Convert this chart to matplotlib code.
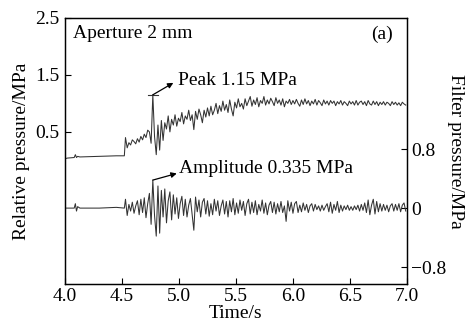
# -*- coding: utf-8 -*-
# Pressao relativa e pressao filtrada - abertura 2 mm (a)

import numpy as np
import matplotlib
matplotlib.use("Agg")
import matplotlib.pyplot as plt

plt.rcParams["font.family"] = "serif"
plt.rcParams["font.serif"] = ["Liberation Serif", "DejaVu Serif"]

# trecho inicial (linha de base)
t_base = [4.00, 4.02, 4.08, 4.09, 4.10, 4.11, 4.13, 4.30, 4.45, 4.52]
rel_base = [0.03, 0.04, 0.05, 0.10, 0.05, 0.07, 0.06, 0.07, 0.08, 0.08]
filt_base = [0.0, 0.0, 0.0, 0.06, -0.04, 0.02, 0.0, 0.0, 0.01, 0.0]

# trecho com oscilacao: amostras a cada 0.015 s, a partir de 4.53 s
t_ini = 4.53
t_passo = 0.015

rel_osc = [
    0.40, 0.22, 0.31, 0.27, 0.36, 0.33, 0.29, 0.38, 0.32, 0.42,
    0.36, 0.46, 0.40, 0.53, 0.50, 0.30, 1.15, 0.42, 0.10, 0.62,
    0.18, 0.70, 0.35, 0.66, 0.55, 0.78, 0.50, 0.72, 0.62, 0.80,
    0.60, 0.74, 0.68, 0.84, 0.64, 0.78, 0.72, 0.88, 0.70, 0.80,
    0.54, 0.86, 0.72, 0.90, 0.80, 0.66, 0.88, 0.76, 0.92, 0.78,
    0.95, 0.80, 0.88, 1.00, 0.82, 0.96, 0.86, 1.04, 0.88, 0.98,
    0.84, 1.06, 0.90, 0.78, 1.02, 0.92, 1.08, 0.94, 1.00, 0.90,
    1.08, 0.96, 1.04, 1.12, 0.95, 1.06, 0.98, 1.10, 0.94, 1.05,
    1.00, 1.12, 0.97, 1.06, 0.99, 1.09, 1.03, 0.96, 1.10, 1.00,
    1.06, 0.97, 1.08, 0.94, 1.04, 1.00, 1.07, 0.98, 1.05, 0.99,
    1.07, 1.00, 0.95, 1.06, 0.98, 1.08, 0.99, 1.05, 0.96, 1.04,
    0.99, 1.07, 0.97, 1.05, 1.01, 0.96, 1.06, 0.99, 1.04, 0.97,
    1.05, 1.00, 1.04, 0.96, 1.03, 0.99, 1.05, 0.97, 1.03, 1.00,
    0.96, 1.04, 0.99, 1.03, 0.97, 1.05, 0.97, 1.02, 1.04, 0.98,
    1.03, 0.96, 1.05, 0.99, 0.97, 1.04, 0.98, 1.03, 0.96, 1.02,
    0.98, 1.03, 0.97, 1.02, 1.00, 0.96, 1.03, 0.98, 1.02, 0.97,
    1.01, 0.96, 1.02, 0.99, 0.97,
]

filt_osc = [
    0.12, -0.10, 0.05, -0.04, 0.08, -0.07, 0.03, 0.10, -0.09, 0.12,
    -0.06, 0.14, -0.13, 0.06, 0.20, -0.22, 0.38, -0.10, -0.38, 0.30,
    -0.34, 0.24, -0.12, 0.26, -0.20, 0.10, 0.22, -0.16, 0.18, -0.08,
    0.14, -0.14, 0.06, 0.16, -0.10, 0.12, -0.12, 0.04, 0.13, -0.09,
    -0.30, 0.15, -0.05, 0.11, -0.12, 0.08, 0.13, -0.08, 0.10, -0.11,
    0.06, -0.09, 0.12, -0.04, 0.10, -0.10, 0.03, 0.11, -0.08, 0.09,
    -0.12, 0.10, -0.05, 0.13, -0.09, 0.07, -0.07, 0.11, -0.03, 0.09,
    -0.10, 0.06, 0.12, -0.08, 0.08, -0.06, 0.10, -0.09, 0.05, -0.04,
    0.11, -0.07, 0.07, -0.09, 0.04, 0.09, -0.06, 0.08, -0.08, 0.06,
    -0.05, 0.09, -0.06, 0.03, -0.18, 0.10, -0.04, 0.08, -0.07, 0.06,
    0.09, -0.06, 0.04, -0.05, 0.07, -0.03, 0.05, -0.06, 0.03, 0.06,
    -0.04, 0.05, -0.02, 0.03, -0.04, 0.04, -0.03, 0.02, 0.06, -0.05,
    0.08, -0.07, 0.05, -0.03, 0.09, -0.06, 0.04, -0.04, 0.03, -0.02,
    0.04, -0.03, 0.02, -0.03, 0.03, -0.02, 0.04, -0.04, 0.05, -0.03,
    0.07, -0.06, 0.11, -0.09, 0.04, 0.12, -0.08, 0.09, -0.05, 0.06,
    -0.04, 0.05, -0.03, 0.04, -0.05, 0.03, 0.06, -0.04, 0.05, -0.03,
    0.06, -0.05, 0.04, 0.07, -0.04,
]

x_ticks = [4.0, 4.5, 5.0, 5.5, 6.0, 6.5, 7.0]
y_ticks_esq = [0.5, 1.5, 2.5]
y_ticks_dir = [-0.8, 0.0, 0.8]

pico_t, pico_p = 4.77, 1.15
amp_t, amp_p = 4.77, 0.38

# monta as series completas
t_osc = t_ini + t_passo * np.arange(len(rel_osc))
tempo = np.concatenate([t_base, t_osc])
rel = np.concatenate([rel_base, rel_osc])
filt = np.concatenate([filt_base, filt_osc])

fig = plt.figure(figsize=(4.65, 3.25), dpi=100)
ax = fig.add_axes([0.14, 0.126, 0.735, 0.819])
ax2 = ax.twinx()

ax.plot(tempo, rel, color="#333333", lw=0.75)
ax2.plot(tempo, filt, color="#333333", lw=0.75)

# marca do pico
ax.plot([pico_t - 0.045, pico_t + 0.045], [pico_p, pico_p], color="#333333", lw=0.8)

ax.set_xlim(4.0, 7.0)
ax.set_ylim(-2.17, 2.5)
ax2.set_ylim(-1.03, 2.58)

ax.set_xticks(x_ticks)
ax.set_xticklabels(["%.1f" % v for v in x_ticks])
ax.set_yticks(y_ticks_esq)
ax.set_yticklabels(["%.1f" % v for v in y_ticks_esq])
ax2.set_yticks(y_ticks_dir)
ax2.set_yticklabels(["\u22120.8", "0", "0.8"])

fs = 14
ax.tick_params(axis="x", direction="in", length=4, width=0.8, labelsize=fs, pad=3)
ax.tick_params(axis="y", direction="in", length=4, width=0.8, labelsize=fs, pad=4)
ax2.tick_params(axis="y", direction="in", length=4, width=0.8, labelsize=fs, pad=3)
for a in (ax, ax2):
    for s in a.spines.values():
        s.set_linewidth(0.9)

ax.set_xlabel("Time/s", fontsize=fs, labelpad=0)
ax.set_ylabel("Relative pressure/MPa", fontsize=fs, labelpad=4)
ax2.set_ylabel("Filter pressure/MPa", fontsize=fs, rotation=270, labelpad=13)

ax.text(0.023, 0.94, "Aperture 2 mm", transform=ax.transAxes, fontsize=fs,
        ha="left", va="center")
ax.text(0.927, 0.94, "(a)", transform=ax.transAxes, fontsize=fs,
        ha="center", va="center")

seta = dict(arrowstyle="-|>", color="black", lw=0.9, mutation_scale=8,
            shrinkA=0, shrinkB=0)
ax.annotate("", xy=(4.95, 1.36), xytext=(pico_t, pico_p), arrowprops=seta)
ax.text(4.99, 1.40, "Peak 1.15 MPa", fontsize=fs, ha="left", va="center")
ax2.annotate("", xy=(4.98, 0.47), xytext=(amp_t, amp_p), arrowprops=seta)
ax2.text(5.0, 0.54, "Amplitude 0.335 MPa", fontsize=fs, ha="left", va="center")

fig.savefig("out.png", dpi=100)
